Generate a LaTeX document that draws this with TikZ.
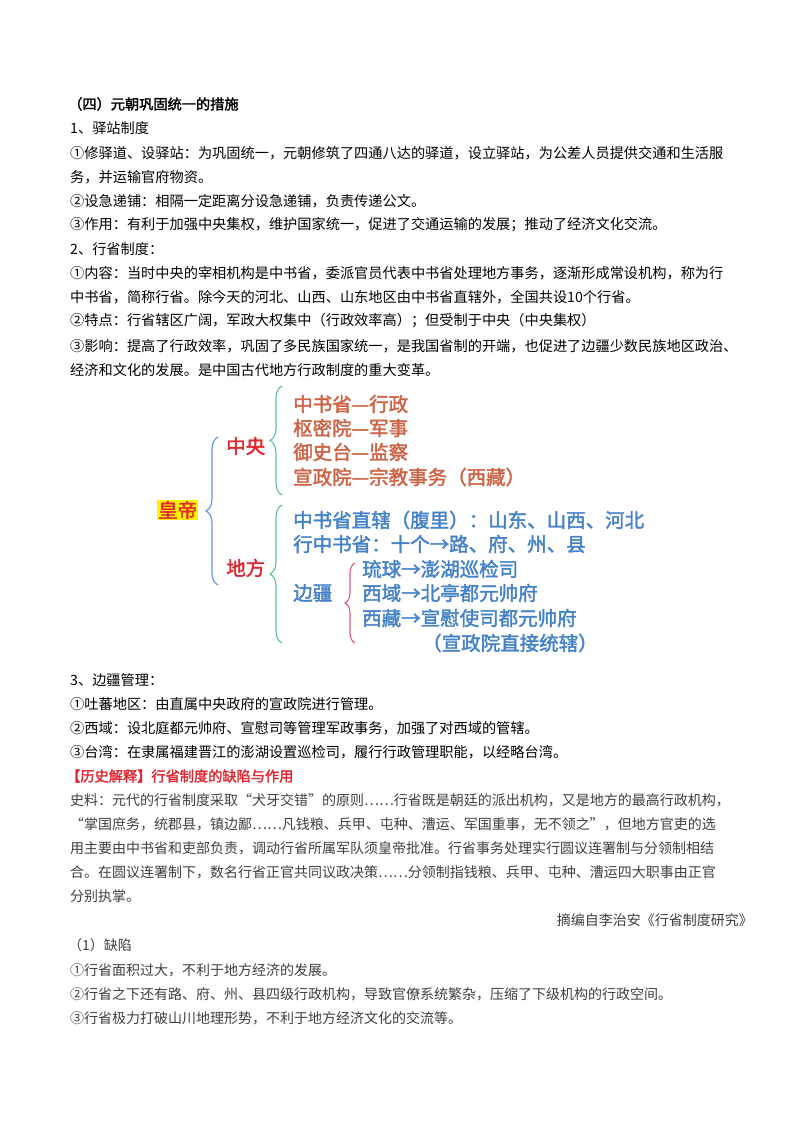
\documentclass[tikz,border=0pt]{standalone}
\usepackage{fontspec}
\setmainfont[AutoFakeBold=2]{Noto Sans CJK SC}
\usetikzlibrary{decorations.pathreplacing}
\definecolor{orng}{RGB}{205,100,70}
\definecolor{blu}{RGB}{70,130,200}
\definecolor{rd}{RGB}{225,40,50}
\definecolor{grn}{RGB}{90,195,140}
\definecolor{pnk}{RGB}{225,90,120}
\definecolor{bbr}{RGB}{100,145,225}
\begin{document}
\begin{tikzpicture}[x=1pt,y=1pt,
  body/.style={anchor=west,inner sep=0pt,font=\fontsize{14.2}{16}\selectfont},
  src/.style={anchor=west,inner sep=0pt,text=black!75,font=\fontsize{14}{16}\selectfont},
  dg/.style={anchor=west,inner sep=0pt,font=\fontsize{19.5}{22}\selectfont\bfseries},
  br/.style={decorate,decoration={brace,amplitude=12pt},line width=1.1pt}]
\useasboundingbox[fill=white] (0,0) rectangle (800,-1132);
\node[body,font=\fontsize{14.2}{16}\selectfont\bfseries] (h1) at (68,-104) {（四）元朝巩固统一的措施};
\node[body] (t1) at (70,-128) {1、驿站制度};
\node[body] (t2) at (70,-153) {①修驿道、设驿站：为巩固统一，元朝修筑了四通八达的驿道，设立驿站，为公差人员提供交通和生活服};
\node[body] (t3) at (70,-177) {务，并运输官府物资。};
\node[body] (t4) at (70,-201) {②设急递铺：相隔一定距离分设急递铺，负责传递公文。};
\node[body] (t5) at (70,-225) {③作用：有利于加强中央集权，维护国家统一，促进了交通运输的发展；推动了经济文化交流。};
\node[body] (t6) at (70,-249) {2、行省制度：};
\node[body] (t7) at (70,-273) {①内容：当时中央的宰相机构是中书省，委派官员代表中书省处理地方事务，逐渐形成常设机构，称为行};
\node[body] (t8) at (70,-297) {中书省，简称行省。除今天的河北、山西、山东地区由中书省直辖外，全国共设10个行省。};
\node[body] (t9) at (70,-321) {②特点：行省辖区广阔，军政大权集中（行政效率高）；但受制于中央（中央集权）};
\node[body] (t10) at (70,-346) {③影响：提高了行政效率，巩固了多民族国家统一，是我国省制的开端，也促进了边疆少数民族地区政治、};
\node[body] (t11) at (70,-370) {经济和文化的发展。是中国古代地方行政制度的重大变革。};
% diagram
\node[dg,fill=yellow,text=rd,inner sep=1pt] (hd) at (157,-510) {皇帝};
\draw[br,bbr] (218,-585) -- (218,-437);
\node[dg,text=rd] (zy) at (226,-446) {中央};
\node[dg,text=rd] (df) at (226,-568) {地方};
\draw[br,grn] (282,-495) -- (282,-386);
\draw[br,grn] (282,-643) -- (282,-505);
\node[dg,text=orng] (o1) at (293,-404) {中书省—行政};
\node[dg,text=orng] (o2) at (293,-428) {枢密院—军事};
\node[dg,text=orng] (o3) at (293,-452) {御史台—监察};
\node[dg,text=orng] (o4) at (293,-477) {宣政院—宗教事务（西藏）};
\node[dg,text=blu] (b1) at (293,-520) {中书省直辖（腹里）：山东、山西、河北};
\node[dg,text=blu] (b2) at (293,-544) {行中书省：十个→路、府、州、县};
\node[dg,text=blu] (bj) at (293,-593) {边疆};
\draw[br,pnk,decoration={amplitude=10pt}] (355,-643) -- (355,-563);
\node[dg,text=blu] (c1) at (362,-569) {琉球→澎湖巡检司};
\node[dg,text=blu] (c2) at (362,-593) {西域→北亭都元帅府};
\node[dg,text=blu] (c3) at (362,-618) {西藏→宣慰使司都元帅府};
\node[dg,text=blu] (c4) at (422,-643) {（宣政院直接统辖）};
% lower
\node[body] (u1) at (70,-680) {3、边疆管理：};
\node[body] (u2) at (70,-704) {①吐蕃地区：由直属中央政府的宣政院进行管理。};
\node[body] (u3) at (70,-728) {②西域：设北庭都元帅府、宣慰司等管理军政事务，加强了对西域的管辖。};
\node[body] (u4) at (70,-752) {③台湾：在隶属福建晋江的澎湖设置巡检司，履行行政管理职能，以经略台湾。};
\node[body,text=rd,font=\fontsize{14.2}{16}\selectfont\bfseries] (u5) at (66,-776) {【历史解释】行省制度的缺陷与作用};
\node[src] (s1) at (70,-800) {史料：元代的行省制度采取“犬牙交错”的原则……行省既是朝廷的派出机构，又是地方的最高行政机构，};
\node[src] (s2) at (70,-824) {“掌国庶务，统郡县，镇边鄙……凡钱粮、兵甲、屯种、漕运、军国重事，无不领之”，但地方官吏的选};
\node[src] (s3) at (70,-848) {用主要由中书省和吏部负责，调动行省所属军队须皇帝批准。行省事务处理实行圆议连署制与分领制相结};
\node[src] (s4) at (70,-872) {合。在圆议连署制下，数名行省正官共同议政决策……分领制指钱粮、兵甲、屯种、漕运四大职事由正官};
\node[src] (s5) at (70,-896) {分别执掌。};
\node[src,anchor=east] (s6) at (753,-920) {摘编自李治安《行省制度研究》};
\node[src] (d1) at (68,-945) {（1）缺陷};
\node[src] (d2) at (70,-970) {①行省面积过大，不利于地方经济的发展。};
\node[src] (d3) at (70,-994) {②行省之下还有路、府、州、县四级行政机构，导致官僚系统繁杂，压缩了下级机构的行政空间。};
\node[src] (d4) at (70,-1018) {③行省极力打破山川地理形势，不利于地方经济文化的交流等。};
\end{tikzpicture}
\end{document}
